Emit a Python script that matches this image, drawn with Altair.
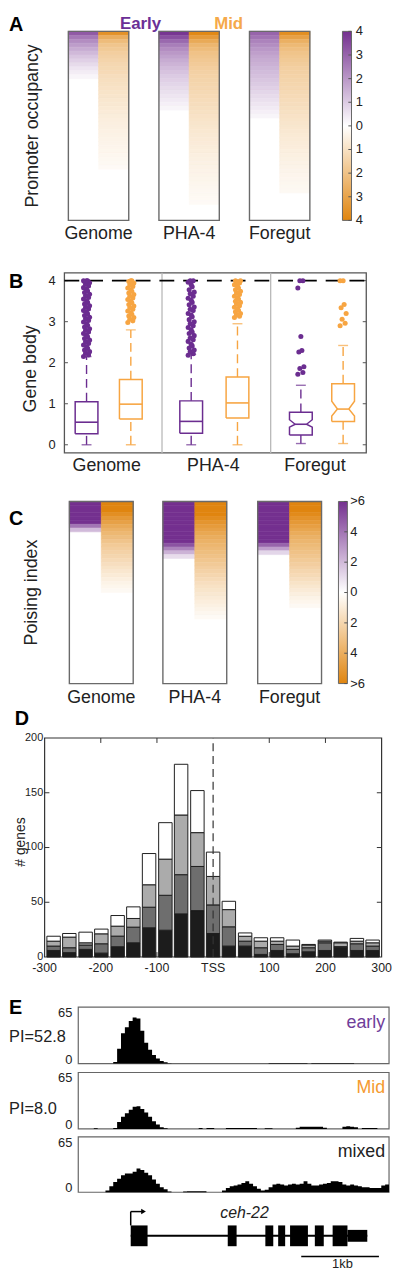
import altair as alt
import pandas as pd

FONT = "Liberation Sans"
LETTER_FONT = "Liberation Sans Narrow, Liberation Sans"
PURPLE = "#6b2d90"
ORANGE = "#f7a542"
HEAT_PURPLE = "#74308f"
HEAT_ORANGE = "#e0850f"
TEXT = "#222222"

# ---------------- Panel A: promoter occupancy (rows sorted, top = highest)
a_genome_early = [3.2, 2.6, 2.2, 1.9, 1.6, 1.35, 1.1, 0.9, 0.7, 0.5, 0.35, 0.2]
a_genome_mid = [3.6, 2.7, 2.2, 1.9, 1.75, 1.6, 1.5, 1.4, 1.3, 1.25, 1.2, 1.1, 1.05, 1.0, 0.95,
                0.9, 0.85, 0.8, 0.75, 0.7, 0.65, 0.6, 0.55, 0.52, 0.48, 0.45, 0.42, 0.38, 0.35,
                0.32, 0.3, 0.27, 0.24, 0.2, 0.15]
a_pha4_early = [3.9, 3.4, 2.9, 2.5, 2.2, 2.0, 1.8, 1.6, 1.45, 1.3, 1.15, 1.0, 0.9, 0.8, 0.7,
                0.6, 0.5, 0.4, 0.3, 0.2]
a_pha4_mid = [3.9, 3.3, 2.8, 2.4, 2.2, 2.0, 1.9, 1.8, 1.7, 1.6, 1.5, 1.45, 1.4, 1.35, 1.3, 1.25,
              1.2, 1.15, 1.1, 1.05, 1.0, 0.95, 0.9, 0.85, 0.8, 0.76, 0.72, 0.68, 0.64, 0.6, 0.56,
              0.52, 0.48, 0.45, 0.42, 0.39, 0.36, 0.33, 0.3, 0.27, 0.24, 0.21, 0.18, 0.15]
a_foregut_early = [3.0, 2.7, 2.4, 2.2, 2.0, 1.85, 1.7, 1.6, 1.5, 1.4, 1.3, 1.2, 1.1, 1.0, 0.9,
                   0.8, 0.7, 0.6, 0.5, 0.4, 0.3, 0.2]
a_foregut_mid = [3.7, 3.1, 2.6, 2.3, 2.1, 1.95, 1.85, 1.75, 1.65, 1.55, 1.5, 1.45, 1.4, 1.35, 1.3,
                 1.25, 1.2, 1.15, 1.1, 1.05, 1.0, 0.95, 0.9, 0.85, 0.8, 0.75, 0.7, 0.66, 0.62,
                 0.58, 0.54, 0.5, 0.46, 0.42, 0.38, 0.35, 0.32, 0.29, 0.26, 0.23, 0.2]
a_rows = 48
a_col_x = [0, 1, 3, 4, 6, 7]
a_box_x = [[0, 2], [3, 5], [6, 8]]
a_groups = ["Genome", "PHA-4", "Foregut"]
a_label_x = [1, 4, 7]
a_ticks = [-4, -3, -2, -1, 0, 1, 2, 3, 4]
a_tick_text = ["4", "3", "2", "1", "0", "1", "2", "3", "4"]
a_headers = ["Early", "Mid"]
a_header_x = [2.39, 5.31]

# ---------------- Panel C: poising index
c_genome_early = [6, 6, 6, 6, 6, 6, 4, 2]
c_genome_mid = [6, 6, 6, 5.5, 5.0, 4.6, 4.2, 3.8, 3.5, 3.2, 2.9, 2.6, 2.4, 2.2, 2.0, 1.8, 1.6,
                1.4, 1.2, 1.0, 0.8, 0.6, 0.45, 0.3]
c_pha4_early = [6, 6, 6, 6, 6, 6, 6, 6, 6, 6, 6, 5, 3.6, 2.2, 1.0]
c_pha4_mid = [6, 6, 6, 6, 5.6, 5.2, 4.9, 4.6, 4.3, 4.0, 3.8, 3.6, 3.4, 3.2, 3.0, 2.8, 2.6, 2.4,
              2.2, 2.0, 1.8, 1.6, 1.45, 1.3, 1.15, 1.0, 0.85, 0.7, 0.55, 0.4, 0.25]
c_foregut_early = [6, 6, 6, 6, 6, 6, 6, 6, 6, 6, 6, 4.5, 2.8, 1.2]
c_foregut_mid = [6, 6, 6, 5.7, 5.3, 5.0, 4.7, 4.4, 4.1, 3.8, 3.6, 3.4, 3.2, 3.0, 2.8, 2.6, 2.4,
                 2.2, 2.0, 1.8, 1.6, 1.4, 1.2, 1.0, 0.8, 0.6, 0.45, 0.3]
c_rows = 48
c_col_x = [0, 1, 2.93, 3.93, 5.9, 6.9]
c_box_x = [[0, 2], [2.93, 4.93], [5.9, 7.9]]
c_label_x = [1, 3.93, 6.9]
c_ticks = [-6, -4, -2, 0, 2, 4, 6]
c_tick_text = [">6", "4", "2", "0", "2", "4", ">6"]

# ---------------- Panel B: gene body box plots
b_pos = [0.22, 0.66, 1.26, 1.72, 2.35, 2.77]
b_stage = ["early", "mid", "early", "mid", "early", "mid"]
b_q1 = [0.27, 0.63, 0.28, 0.65, 0.24, 0.57]
b_med = [0.55, 0.99, 0.57, 1.02, 0.50, 0.87]
b_q3 = [1.05, 1.59, 1.07, 1.65, 0.79, 1.49]
b_wlo = [0.0, 0.0, 0.0, 0.0, 0.03, 0.03]
b_whi = [2.15, 2.8, 2.2, 2.95, 1.45, 2.42]
b_notch_lo = [0.55, 0.99, 0.57, 1.02, 0.43, 0.70]
b_notch_hi = [0.55, 0.99, 0.57, 1.02, 0.61, 1.06]
b_notched = [False, False, False, False, True, True]
ge_out = [2.15, 2.19, 2.23, 2.27, 2.31, 2.35, 2.39, 2.43, 2.47, 2.51, 2.55, 2.59, 2.63, 2.67,
          2.71, 2.75, 2.79, 2.83, 2.87, 2.91, 2.95, 2.99, 3.03, 3.07, 3.11, 3.15, 3.19, 3.23,
          3.27, 3.31, 3.35, 3.39, 3.43, 3.47, 3.51, 3.55, 3.59, 3.63, 3.67, 3.71, 3.75, 3.79,
          3.83, 3.87, 3.91, 3.95, 3.98, 4.0, 4.0, 4.0]
gm_out = [2.98, 3.02, 3.06, 3.1, 3.14, 3.18, 3.22, 3.26, 3.3, 3.34, 3.38, 3.42, 3.46, 3.5, 3.54,
          3.58, 3.62, 3.66, 3.7, 3.74, 3.78, 3.82, 3.86, 3.9, 3.94, 3.98, 4.0, 4.0]
pe_out = [2.18, 2.22, 2.27, 2.31, 2.36, 2.41, 2.45, 2.52, 2.56, 2.6, 2.66, 2.71, 2.75, 2.8, 2.86,
          2.9, 2.95, 3.0, 3.05, 3.12, 3.16, 3.2, 3.27, 3.3, 3.36, 3.41, 3.47, 3.52, 3.57, 3.62,
          3.68, 3.72, 3.78, 3.85, 3.9, 3.96, 4.0, 4.0]
pm_out = [3.1, 3.13, 3.17, 3.2, 3.24, 3.28, 3.31, 3.35, 3.39, 3.43, 3.47, 3.5, 3.55, 3.58, 3.62,
          3.66, 3.7, 3.74, 3.78, 3.82, 3.86, 3.9, 3.94, 3.97, 4.0, 4.0]
fe_out = [1.72, 1.76, 1.86, 1.9, 2.26, 2.3, 2.64, 3.82, 4.0, 4.0]
fm_out = [2.9, 2.96, 3.06, 3.2, 3.34, 3.42, 4.0, 4.0]
b_out = [ge_out, gm_out, pe_out, pm_out, fe_out, fm_out]
b_jitter = [-0.03, 0.02, -0.01, 0.03, -0.02, 0.01, 0.0]
b_separators = [0.97, 2.05]
b_label_x = [0.42, 1.48, 2.49]
b_yticks = [0, 1, 2, 3, 4]

# ---------------- Panel D: stacked histogram of # genes
d_centers = [-284, -256, -227, -199, -170, -142, -114, -85, -57, -28, 0, 28, 57, 85, 114, 142,
             170, 199, 227, 256, 284]
d_black = [6, 4, 7, 3.6, 9.4, 13, 26.7, 24.5, 39.4, 42.4, 21.5, 10, 10, 2.4, 6, 3, 4.8, 6, 9, 6, 6]
d_dark = [4, 4.5, 3.9, 8.5, 9.7, 14.3, 18.8, 31.9, 35.8, 40.3, 26.1, 17.6, 4.5, 6.1, 5.5, 4, 3.7,
          7, 0.5, 6.1, 4]
d_light = [4.5, 9.7, 2.1, 9.1, 9.1, 7.9, 20.5, 33, 54.5, 30.9, 26, 15.7, 4.5, 6, 3, 3, 2.5, 1.5,
           3.5, 2.4, 3]
d_white = [4.5, 3.3, 9.7, 4.3, 9.7, 10.6, 28.5, 33.3, 46.3, 38.4, 22.2, 7.6, 3, 3.1, 3.1, 5.5,
           0.5, 1, 0.6, 2.5, 2.5]
d_segments = ["black", "dark", "light", "white"]
d_colors = ["#1c1c1c", "#6e6e6e", "#ababab", "#ffffff"]
d_xticks = [-300, -200, -100, 0, 100, 200, 300]
d_xtick_text = ["-300", "-200", "-100", "TSS", "100", "200", "300"]
d_yticks = [0, 50, 100, 150, 200]

# ---------------- Panel E: coverage tracks (50 bp bins, 0-4 kb)
e_bin = 50
e_early = [0, 0, 0, 0, 0, 0, 0, 0, 0,
           2, 17, 35, 42, 49, 53, 52, 38, 24, 16, 10, 6, 3, 1.5, 0.5,
           0, 0, 0, 0, 0, 0, 0, 0, 0, 0, 0, 0, 0, 0, 0, 0, 0, 0, 0, 0, 0, 0, 0, 0, 0,
           0.8, 0.8, 0.8, 0.8, 0.8, 0.8, 0.8, 0.8, 0.8, 0.8,
           0,
           0.8, 0.8, 0.8, 0.8, 0.8, 0.8, 0.8, 0.8, 0.8, 0.8, 0.8,
           0, 0, 0, 0, 0, 0, 0, 0, 0]
e_mid = [0, 0, 0, 0, 0.8, 0, 0, 0, 0,
         1, 8, 14, 18, 22, 25.5, 26, 23, 19, 14, 9, 5, 2, 0.8,
         0, 0, 0, 0, 0, 0, 0,
         0, 1, 0, 1, 1, 0, 0, 0,
         1, 1, 1, 1, 1, 1, 1,
         1, 0, 0, 0.8, 0.8,
         0, 0, 0, 0, 0, 0,
         1.5, 2.5, 2.5, 2.5, 2.5, 2.5, 2.5, 1.5,
         0, 0, 0, 0,
         2.5, 3, 2.5, 2,
         0, 1, 1, 1, 1, 0, 0, 0]
e_mixed = [0, 0, 0, 0, 0, 0, 0,
           2, 7, 12, 16, 20, 22, 22, 24, 28, 26, 23, 20, 15, 10, 6, 3.5, 1,
           0, 0, 0,
           1, 1.2, 1.2, 1.2, 1.2, 1.2,
           0, 0, 0, 0,
           2, 5, 7, 8, 9, 11, 13, 10, 7, 4, 2,
           3, 6, 9, 10, 9, 8, 9, 10, 9, 10, 13, 10, 8, 8, 9, 10, 11, 13, 13, 12, 9, 8, 9, 8,
           7, 6, 6, 5, 5, 5, 8, 9]
e_labels = ["early", "Mid", "mixed"]
e_label_colors = ["#6f3d9a", "#f59a2f", "#222222"]
e_pi = ["PI=52.8", "PI=8.0", ""]
e_ymax = 65

# ---------------- Gene model (bp)
g_exon_start = [675, 1924, 2408, 2573, 2726, 3045, 3274]
g_exon_end = [892, 2038, 2510, 2663, 2956, 3160, 3465]
g_utr = [3465, 3720]
g_tss = 675
g_name = "ceh-22"
g_scalebar = [2870, 3870]

ROW_W = 384


def texts(df, xs, ys, **kw):
    return alt.Chart(df).mark_text(**kw).encode(
        x=alt.X("x:Q", scale=xs, axis=None), y=alt.Y("y:Q", scale=ys, axis=None), text="t:N")


def letter(t, x, y, xs, ys):
    return texts(pd.DataFrame({"t": [t], "x": [x], "y": [y]}), xs, ys, font=LETTER_FONT,
                 fontSize=20, fontWeight="bold", align="left", baseline="top", color="black")


def segs(df, xs, ys, color="#555555", width=1):
    return alt.Chart(df).mark_rule(color=color, strokeWidth=width).encode(
        x=alt.X("x0:Q", scale=xs, axis=None), x2="x1:Q",
        y=alt.Y("y0:Q", scale=ys, axis=None), y2="y1:Q")


def heat_row(col_x, arrays, box_x, label_x, label_row, nrows, lim, ticks, tick_text, xdom,
             xrange, yrange, ytitle, ytitle_x, cb_x, cb_label_x):
    recs = []
    for x0, vals, sign in zip(col_x, arrays, [1, -1, 1, -1, 1, -1]):
        for i, v in enumerate(vals):
            recs.append({"x0": x0, "x1": x0 + 1, "r0": i, "r1": i + 1,
                         "v": sign * v, "v2": sign * v})
    df = pd.DataFrame(recs)
    cdom = [-lim, 0, lim]
    crange = [HEAT_ORANGE, "#ffffff", HEAT_PURPLE]
    xs = alt.Scale(domain=xdom, range=xrange, nice=False, zero=False)
    ys = alt.Scale(domain=[0, nrows], range=yrange, nice=False, zero=False)
    cells = alt.Chart(df).mark_rect(strokeWidth=0.6).encode(
        x=alt.X("x0:Q", scale=xs, axis=None), x2="x1:Q",
        y=alt.Y("r0:Q", scale=ys, axis=None), y2="r1:Q",
        color=alt.Color("v:Q", scale=alt.Scale(domain=cdom, range=crange, clamp=True,
                                               interpolate="rgb"), legend=None),
        stroke=alt.Stroke("v2:Q", scale=alt.Scale(domain=cdom, range=crange, clamp=True,
                                                  interpolate="rgb"), legend=None),
    )
    bdf = pd.DataFrame({"b0": [b[0] for b in box_x], "b1": [b[1] for b in box_x],
                        "t0": [0, 0, 0], "t1": [nrows, nrows, nrows]})
    frames = alt.Chart(bdf).mark_rect(fillOpacity=0, stroke="#6a6a6a", strokeWidth=1.4).encode(
        x=alt.X("b0:Q", scale=xs, axis=None), x2="b1:Q",
        y=alt.Y("t0:Q", scale=ys, axis=None), y2="t1:Q")
    cat = texts(pd.DataFrame({"t": a_groups, "x": label_x, "y": [label_row] * 3}), xs, ys,
                fontSize=18, baseline="middle", color=TEXT)
    ytl = texts(pd.DataFrame({"t": [ytitle], "x": [ytitle_x], "y": [nrows / 2]}), xs, ys,
                fontSize=18, angle=270, baseline="middle", color=TEXT)
    grad = alt.LinearGradient(gradient="linear", x1=0, y1=0, x2=0, y2=1, stops=[
        alt.GradientStop(offset=0, color=HEAT_PURPLE),
        alt.GradientStop(offset=0.5, color="#ffffff"),
        alt.GradientStop(offset=1, color=HEAT_ORANGE)])
    cb = alt.Chart(pd.DataFrame({"a": [cb_x[0]], "b": [cb_x[1]], "t0": [0], "t1": [nrows]})).mark_rect(
        fill=grad, stroke="#666666", strokeWidth=1).encode(
        x=alt.X("a:Q", scale=xs, axis=None), x2="b:Q",
        y=alt.Y("t0:Q", scale=ys, axis=None), y2="t1:Q")
    tick_rows = [(lim - v) / (2 * lim) * nrows for v in ticks]
    tick_len = (cb_x[1] - cb_x[0]) * 0.35
    cbt = segs(pd.DataFrame({"x0": [cb_x[1] - tick_len] * len(ticks), "x1": [cb_x[1]] * len(ticks),
                             "y0": tick_rows, "y1": tick_rows}), xs, ys)
    cbl = texts(pd.DataFrame({"t": tick_text, "x": [cb_label_x] * len(ticks), "y": tick_rows}),
                xs, ys, fontSize=13, align="left", baseline="middle", color=TEXT)
    return [cells, frames, cat, ytl, cb, cbt, cbl], xs, ys


# ---------- Row A (page y 8..268)
a_layers, a_xs, a_ys = heat_row(
    a_col_x, [a_genome_early, a_genome_mid, a_pha4_early, a_pha4_mid, a_foregut_early, a_foregut_mid],
    a_box_x, a_label_x, 51.5, a_rows, 4, a_ticks, a_tick_text, [0, 8], [60, 304], [16, 207],
    "Promoter occupancy", -1.16, [9.08, 9.38], 9.52)
hdr_early = texts(pd.DataFrame({"t": [a_headers[0]], "x": [a_header_x[0]], "y": [-1.9]}), a_xs, a_ys,
                  fontSize=17, fontWeight="bold", color="#6b2f96", baseline="middle")
hdr_mid = texts(pd.DataFrame({"t": [a_headers[1]], "x": [a_header_x[1]], "y": [-1.9]}), a_xs, a_ys,
                fontSize=17, fontWeight="bold", color="#f5a94a", baseline="middle")
rowA = alt.layer(*a_layers, hdr_early, hdr_mid, letter("A", -1.967, -4.0, a_xs, a_ys)).properties(
    width=ROW_W, height=260)

# ---------- Row B (page y 268..499)
bxs = alt.Scale(domain=[0, 3], range=[56, 361], nice=False, zero=False)
bys = alt.Scale(domain=[-0.2, 4.19], range=[182, 0], nice=False, zero=False)
W = 0.113
poly, whisk, caps, meds, outs = [], [], [], [], []
for k in range(6):
    col = PURPLE if b_stage[k] == "early" else ORANGE
    x = b_pos[k]
    inset = 0.5 if b_notched[k] else 1.0
    pts = [(x - W, b_q1[k]), (x - W, b_notch_lo[k]), (x - W * inset, b_med[k]),
           (x - W, b_notch_hi[k]), (x - W, b_q3[k]), (x + W, b_q3[k]), (x + W, b_notch_hi[k]),
           (x + W * inset, b_med[k]), (x + W, b_notch_lo[k]), (x + W, b_q1[k]), (x - W, b_q1[k])]
    for j, (px, py) in enumerate(pts):
        poly.append({"box": k, "k": j, "px": px, "py": py, "col": col})
    whisk.append({"pos": x, "a": b_q3[k], "b": b_whi[k], "col": col})
    whisk.append({"pos": x, "a": b_wlo[k], "b": b_q1[k], "col": col})
    caps.append({"pos": x, "y": b_whi[k], "col": col})
    caps.append({"pos": x, "y": b_wlo[k], "col": col})
    meds.append({"m0": x - W * inset, "m1": x + W * inset, "y": b_med[k], "col": col})
    for i, v in enumerate(b_out[k]):
        outs.append({"ox": x + b_jitter[i % len(b_jitter)], "oy": v, "col": col})

b_frame = alt.Chart(pd.DataFrame({"x0": [0], "x1": [3], "y0": [-0.2], "y1": [4.19]})).mark_rect(
    fillOpacity=0, stroke="#555555", strokeWidth=1.3).encode(
    x=alt.X("x0:Q", scale=bxs, axis=None), x2="x1:Q",
    y=alt.Y("y0:Q", scale=bys, axis=None), y2="y1:Q")
seps = alt.Chart(pd.DataFrame({"s": b_separators, "y0": [-0.2, -0.2], "y1": [4.19, 4.19]})).mark_rule(
    color="#b8b8b8", strokeWidth=1.3).encode(
    x=alt.X("s:Q", scale=bxs, axis=None), y=alt.Y("y0:Q", scale=bys, axis=None), y2="y1:Q")
b_tick_len = 0.035
b_ticks = segs(pd.DataFrame({
    "x0": [0] * 5 + [3 - b_tick_len] * 5, "x1": [b_tick_len] * 5 + [3] * 5,
    "y0": b_yticks + b_yticks, "y1": b_yticks + b_yticks}), bxs, bys)
dash4 = alt.Chart(pd.DataFrame({"x0": [0], "x1": [3], "y": [4]})).mark_rule(
    color="black", strokeWidth=1.6, strokeDash=[15, 9]).encode(
    x=alt.X("x0:Q", scale=bxs, axis=None), x2="x1:Q", y=alt.Y("y:Q", scale=bys, axis=None))
whisk_l = alt.Chart(pd.DataFrame(whisk)).mark_rule(strokeWidth=1.4, strokeDash=[9, 5]).encode(
    x=alt.X("pos:Q", scale=bxs, axis=None), y=alt.Y("a:Q", scale=bys, axis=None), y2="b:Q",
    color=alt.Color("col:N", scale=None))
caps_l = alt.Chart(pd.DataFrame(caps)).mark_tick(orient="horizontal", size=10, thickness=1.4).encode(
    x=alt.X("pos:Q", scale=bxs, axis=None), y=alt.Y("y:Q", scale=bys, axis=None),
    color=alt.Color("col:N", scale=None))
box_l = alt.Chart(pd.DataFrame(poly)).mark_line(strokeWidth=1.5).encode(
    x=alt.X("px:Q", scale=bxs, axis=None), y=alt.Y("py:Q", scale=bys, axis=None),
    detail="box:N", order=alt.Order("k:Q"), color=alt.Color("col:N", scale=None))
med_l = alt.Chart(pd.DataFrame(meds)).mark_rule(strokeWidth=1.6).encode(
    x=alt.X("m0:Q", scale=bxs, axis=None), x2="m1:Q", y=alt.Y("y:Q", scale=bys, axis=None),
    color=alt.Color("col:N", scale=None))
out_l = alt.Chart(pd.DataFrame(outs)).mark_circle(size=26, opacity=1).encode(
    x=alt.X("ox:Q", scale=bxs, axis=None), y=alt.Y("oy:Q", scale=bys, axis=None),
    color=alt.Color("col:N", scale=None))
b_cat = texts(pd.DataFrame({"t": a_groups, "x": b_label_x, "y": [-0.51] * 3}), bxs, bys,
              fontSize=18, baseline="middle", color=TEXT)
b_yl = texts(pd.DataFrame({"t": [str(v) for v in b_yticks], "x": [-0.088] * 5, "y": b_yticks}),
             bxs, bys, fontSize=13, align="right", baseline="middle", color=TEXT)
b_yt = texts(pd.DataFrame({"t": ["Gene body"], "x": [-0.33], "y": [1.85]}), bxs, bys,
             fontSize=18, angle=270, baseline="middle", color=TEXT)
rowB = alt.layer(b_frame, seps, b_ticks, dash4, whisk_l, caps_l, box_l, med_l, out_l, b_cat, b_yl,
                 b_yt, letter("B", -0.551, 4.2, bxs, bys)).properties(width=ROW_W, height=231)

# ---------- Row C (page y 499..705)
c_layers, c_xs, c_ys = heat_row(
    c_col_x, [c_genome_early, c_genome_mid, c_pha4_early, c_pha4_mid, c_foregut_early, c_foregut_mid],
    c_box_x, c_label_x, 51.7, c_rows, 6, c_ticks, c_tick_text, [0, 7.9], [61, 315.8], [0, 184],
    "Poising index", -1.18, [8.43, 8.71], 8.8)
rowC = alt.layer(*c_layers, letter("C", -1.891, 1.98, c_xs, c_ys)).properties(
    width=ROW_W, height=206)

# ---------- Row D (page y 705..1005)
drecs = []
for i, c in enumerate(d_centers):
    base = 0
    for seg, arr in zip(d_segments, [d_black, d_dark, d_light, d_white]):
        drecs.append({"c": c, "y0": base, "y1": base + arr[i], "seg": seg})
        base += arr[i]
dxs = alt.Scale(domain=[-300, 300], range=[31, 381.5], nice=False, zero=False)
dys = alt.Scale(domain=[0, 200], range=[254.3, 33], nice=False, zero=False)
d_frame = alt.Chart(pd.DataFrame({"x0": [-300], "x1": [300], "y0": [0], "y1": [200]})).mark_rect(
    fillOpacity=0, stroke="#333333", strokeWidth=1.2).encode(
    x=alt.X("x0:Q", scale=dxs, axis=None), x2="x1:Q",
    y=alt.Y("y0:Q", scale=dys, axis=None), y2="y1:Q")
d_inner_y = [50, 100, 150]
d_inner_x = [-200, -100, 100, 200]
d_tx, d_ty = 8.5, 4.5
d_ticks = segs(pd.DataFrame({
    "x0": [-300] * 3 + [300 - d_tx] * 3 + d_inner_x + d_inner_x,
    "x1": [-300 + d_tx] * 3 + [300] * 3 + d_inner_x + d_inner_x,
    "y0": d_inner_y + d_inner_y + [200 - d_ty] * 4 + [0] * 4,
    "y1": d_inner_y + d_inner_y + [200] * 4 + [d_ty] * 4}), dxs, dys, color="#333333")
bars = alt.Chart(pd.DataFrame(drecs)).mark_bar(size=13.6, stroke="#1e1e1e", strokeWidth=1).encode(
    x=alt.X("c:Q", scale=dxs, axis=None),
    y=alt.Y("y0:Q", scale=dys, axis=None),
    y2="y1:Q",
    color=alt.Color("seg:N", scale=alt.Scale(domain=d_segments, range=d_colors), legend=None))
tss = alt.Chart(pd.DataFrame({"t": [0], "y0": [0], "y1": [200]})).mark_rule(
    strokeDash=[8, 5], color="#333333", strokeWidth=1.2).encode(
    x=alt.X("t:Q", scale=dxs, axis=None), y=alt.Y("y0:Q", scale=dys, axis=None), y2="y1:Q")
d_xl = texts(pd.DataFrame({"t": d_xtick_text, "x": d_xticks, "y": [-10.5] * 7}), dxs, dys,
             fontSize=12.5, baseline="middle", color=TEXT)
d_yl = texts(pd.DataFrame({"t": [str(v) for v in d_yticks], "x": [-302.5] * 5, "y": d_yticks}),
             dxs, dys, fontSize=11, align="right", baseline="middle", color=TEXT)
d_yt = texts(pd.DataFrame({"t": ["# genes"], "x": [-341.5], "y": [105]}), dxs, dys,
             fontSize=14, angle=270, baseline="middle", color=TEXT)
rowD = alt.layer(d_frame, d_ticks, bars, tss, d_xl, d_yl, d_yt,
                 letter("D", -353.1, 226.6, dxs, dys)).properties(width=ROW_W, height=300)

# ---------- Rows E (tracks)
exs = alt.Scale(domain=[0, 4000], range=[70, 384], nice=False, zero=False)


def track(vals, label, label_color, pi_text, pi_y, row_h, yrange, panel_letter=None):
    ys = alt.Scale(domain=[0, e_ymax], range=yrange, nice=False, zero=False)
    xs_ = [i * e_bin for i in range(len(vals))] + [len(vals) * e_bin]
    cov = list(vals) + [vals[-1]]
    df = pd.DataFrame({"bp": xs_, "cov": cov})
    frame = alt.Chart(pd.DataFrame({"x0": [0], "x1": [4000], "y0": [0], "y1": [e_ymax]})).mark_rect(
        fillOpacity=0, stroke="#666666", strokeWidth=1.2).encode(
        x=alt.X("x0:Q", scale=exs, axis=None), x2="x1:Q",
        y=alt.Y("y0:Q", scale=ys, axis=None), y2="y1:Q")
    area = alt.Chart(df).mark_area(interpolate="step-after", color="black").encode(
        x=alt.X("bp:Q", scale=exs, axis=None),
        y=alt.Y("cov:Q", scale=ys, axis=None))
    lab = texts(pd.DataFrame({"t": [label], "x": [3950], "y": [47]}), exs, ys,
                align="right", baseline="middle", fontSize=18, color=label_color)
    top_l = texts(pd.DataFrame({"t": [str(e_ymax)], "x": [-76], "y": [e_ymax]}), exs, ys,
                  align="right", baseline="middle", fontSize=13, dy=6, color=TEXT)
    bot_l = texts(pd.DataFrame({"t": ["0"], "x": [-76], "y": [0]}), exs, ys,
                  align="right", baseline="middle", fontSize=13, dy=-4, color=TEXT)
    layers = [frame, area, lab, top_l, bot_l]
    if pi_text:
        layers.append(texts(pd.DataFrame({"t": [pi_text], "x": [-890], "y": [pi_y]}), exs, ys,
                            align="left", baseline="middle", fontSize=16.5, color=TEXT))
    if panel_letter:
        layers.append(letter(panel_letter, -891.7, 75.7, exs, ys))
    return alt.layer(*layers).properties(width=ROW_W, height=row_h)


rowE1 = track(e_early, e_labels[0], e_label_colors[0], e_pi[0], 31, 67, [62, 5], "E")
rowE2 = track(e_mid, e_labels[1], e_label_colors[1], e_pi[1], 23, 66, [61, 4])
rowE3 = track(e_mixed, e_labels[2], e_label_colors[2], e_pi[2], 30, 64, [59, 3])

# ---------- Gene model row (page y 1202..1277)
gys = alt.Scale(domain=[-3.4, 3.6], range=[73, 3], nice=False, zero=False)
EXON_H, UTR_H, ARROW_Y = 1.05, 0.6, 2.45
intron = alt.Chart(pd.DataFrame({"a": [g_tss], "b": [g_utr[1]], "y": [0]})).mark_rule(
    strokeWidth=2, color="black").encode(
    x=alt.X("a:Q", scale=exs, axis=None), x2="b:Q", y=alt.Y("y:Q", scale=gys, axis=None))
exons = alt.Chart(pd.DataFrame({"a": g_exon_start, "b": g_exon_end,
                                "y0": [-EXON_H] * len(g_exon_start),
                                "y1": [EXON_H] * len(g_exon_start)})).mark_rect(color="black").encode(
    x=alt.X("a:Q", scale=exs, axis=None), x2="b:Q",
    y=alt.Y("y0:Q", scale=gys, axis=None), y2="y1:Q")
utr = alt.Chart(pd.DataFrame({"a": [g_utr[0]], "b": [g_utr[1]], "y0": [-UTR_H], "y1": [UTR_H]})).mark_rect(
    color="black").encode(
    x=alt.X("a:Q", scale=exs, axis=None), x2="b:Q",
    y=alt.Y("y0:Q", scale=gys, axis=None), y2="y1:Q")
arr_v = alt.Chart(pd.DataFrame({"x": [g_tss], "y0": [EXON_H], "y1": [ARROW_Y]})).mark_rule(
    strokeWidth=1.5, color="black").encode(
    x=alt.X("x:Q", scale=exs, axis=None), y=alt.Y("y0:Q", scale=gys, axis=None), y2="y1:Q")
arr_h = alt.Chart(pd.DataFrame({"x0": [g_tss], "x1": [g_tss + 150], "y": [ARROW_Y]})).mark_rule(
    strokeWidth=1.5, color="black").encode(
    x=alt.X("x0:Q", scale=exs, axis=None), x2="x1:Q", y=alt.Y("y:Q", scale=gys, axis=None))
arr_head = alt.Chart(pd.DataFrame({"x": [g_tss + 165], "y": [ARROW_Y]})).mark_point(
    shape="triangle-right", filled=True, size=30, color="black", opacity=1).encode(
    x=alt.X("x:Q", scale=exs, axis=None), y=alt.Y("y:Q", scale=gys, axis=None))
gname = texts(pd.DataFrame({"t": [g_name], "x": [2140], "y": [2.3]}), exs, gys,
              fontSize=16, fontStyle="italic", baseline="middle", color=TEXT)
sbar = alt.Chart(pd.DataFrame({"x0": [g_scalebar[0]], "x1": [g_scalebar[1]], "y": [-2.1]})).mark_rule(
    strokeWidth=1.5, color="black").encode(
    x=alt.X("x0:Q", scale=exs, axis=None), x2="x1:Q", y=alt.Y("y:Q", scale=gys, axis=None))
slab = texts(pd.DataFrame({"t": ["1kb"], "x": [3400], "y": [-2.85]}), exs, gys,
             fontSize=13, baseline="middle", color=TEXT)
rowG = alt.layer(intron, exons, utr, arr_v, arr_h, arr_head, gname, sbar, slab).properties(
    width=ROW_W, height=75)

chart = alt.vconcat(rowA, rowB, rowC, rowD, rowE1, rowE2, rowE3, rowG,
                    spacing=0, bounds="flush").resolve_scale(
    color="independent", stroke="independent", x="independent", y="independent").properties(
    padding=0).configure_view(stroke=None).configure_text(font=FONT)

chart.save("out.html", embed_options={"renderer": "svg", "actions": False})
